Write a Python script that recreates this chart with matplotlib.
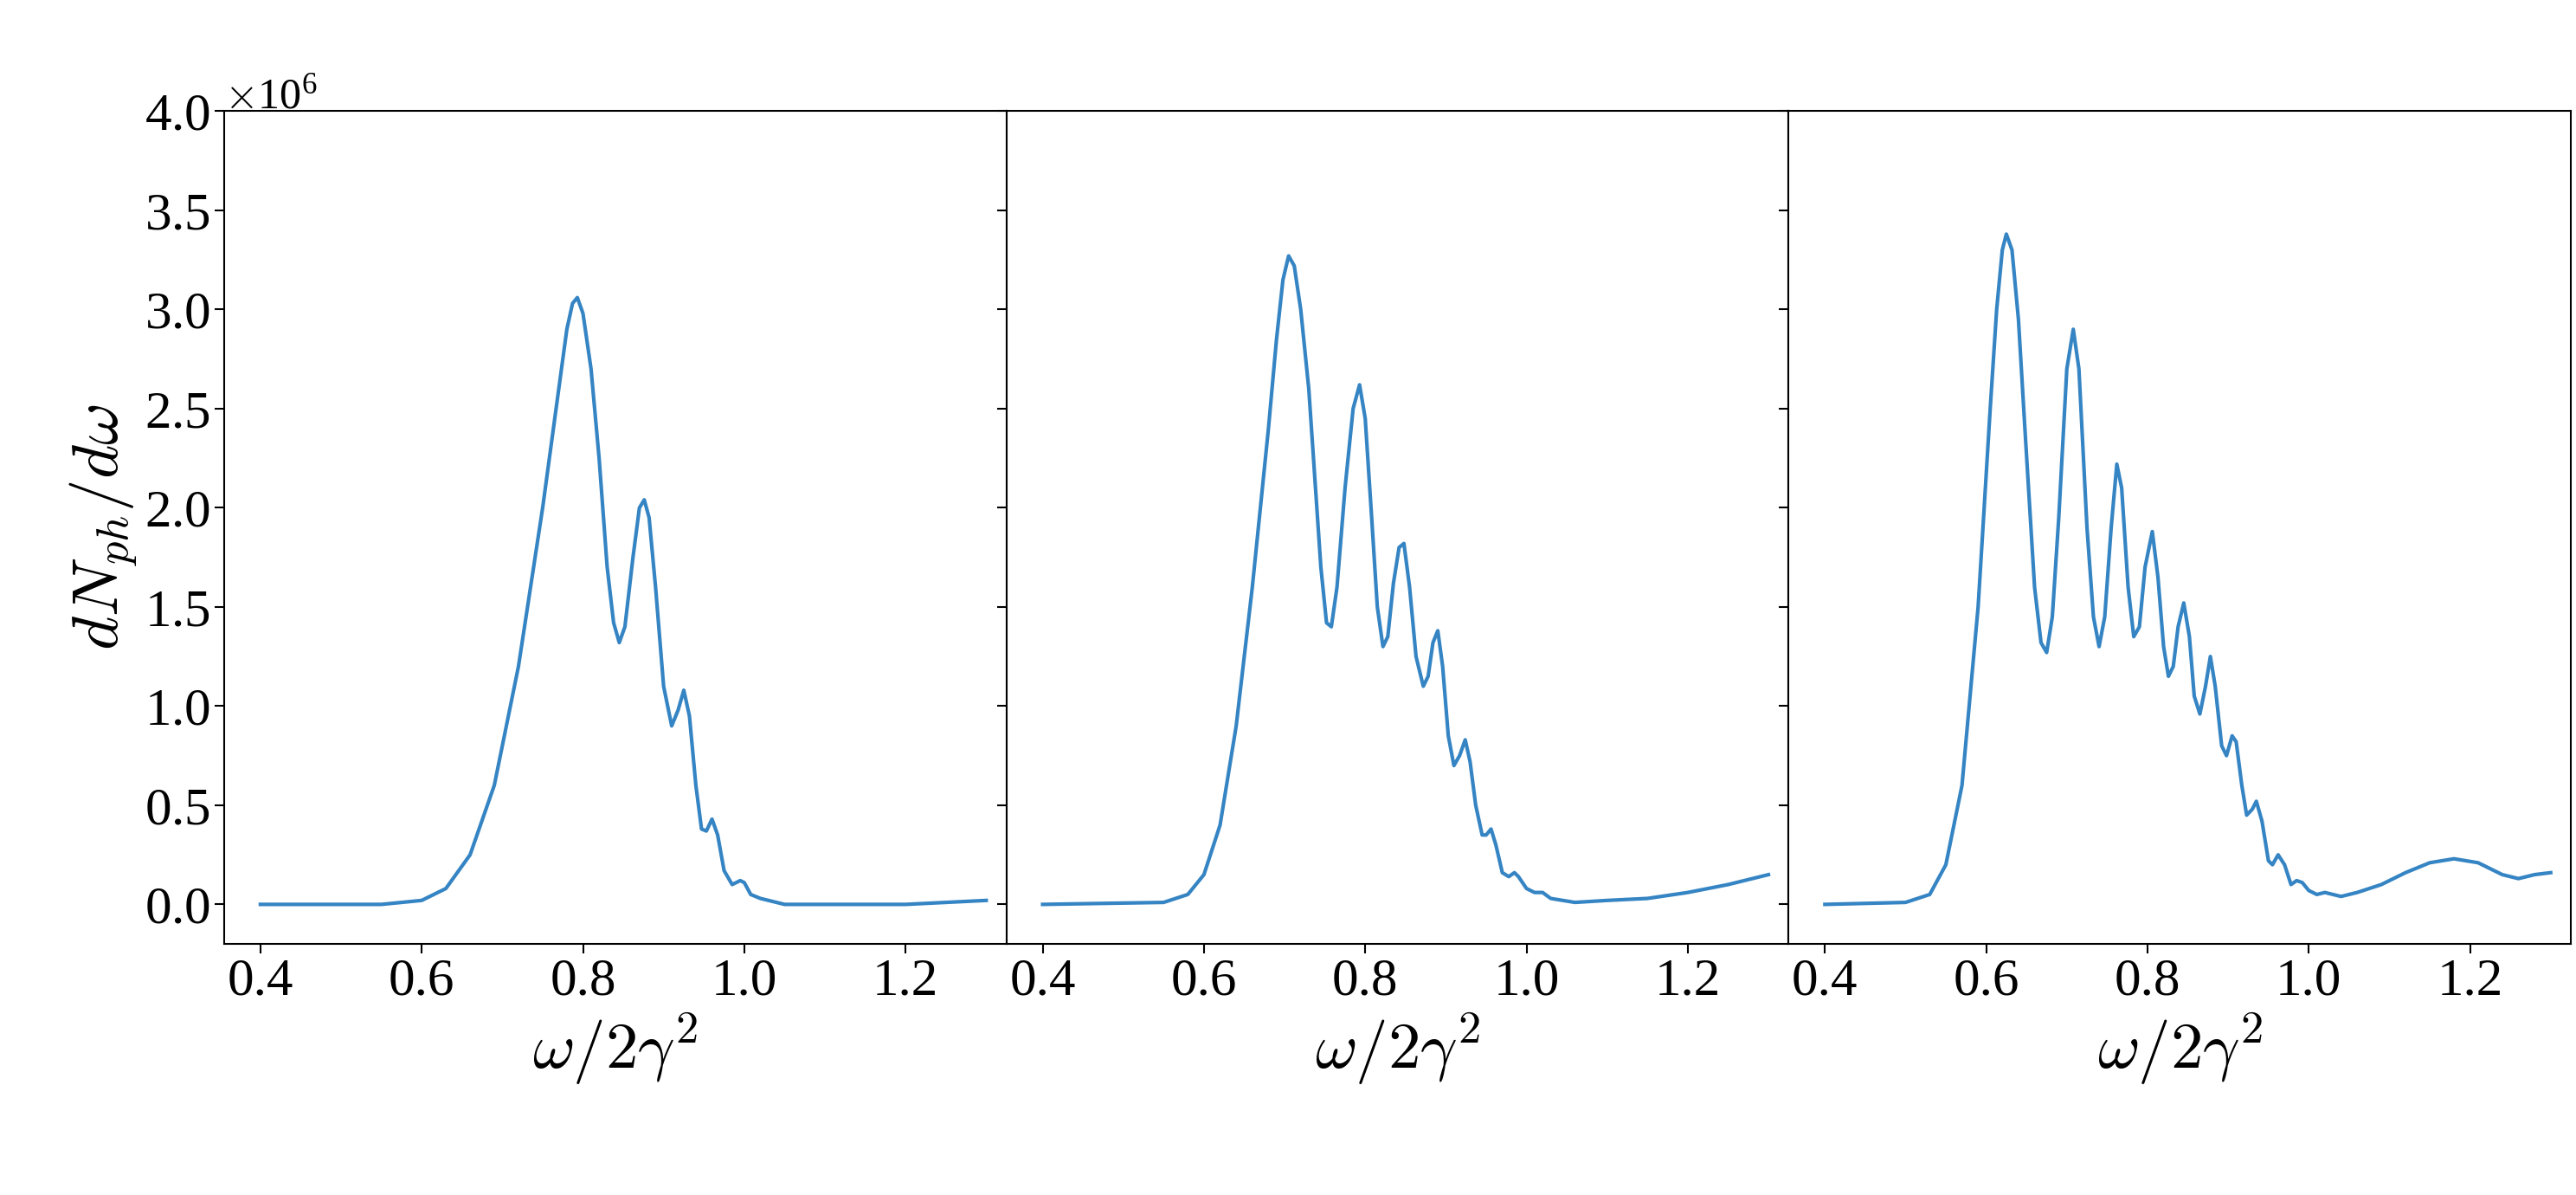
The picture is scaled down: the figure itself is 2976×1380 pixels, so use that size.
import matplotlib
matplotlib.use("Agg")
import matplotlib.pyplot as plt
import numpy as np

x1 = [0.40,0.55,0.60,0.63,0.66,0.69,0.72,0.75,0.77,0.78,0.787,0.793,0.80,0.81,0.82,0.83,0.838,0.845,0.852,0.862,0.87,0.876,0.882,0.89,0.90,0.91,0.918,0.925,0.932,0.94,0.947,0.953,0.96,0.967,0.975,0.985,0.995,1.0,1.008,1.02,1.03,1.05,1.2,1.3]
y1 = [0.0,0.0,0.02,0.08,0.25,0.6,1.2,2.0,2.6,2.9,3.03,3.06,2.98,2.7,2.25,1.7,1.42,1.32,1.4,1.75,2.0,2.04,1.95,1.6,1.1,0.9,0.98,1.08,0.95,0.6,0.38,0.37,0.43,0.35,0.17,0.1,0.12,0.11,0.05,0.03,0.02,0.0,0.0,0.02]

x2 = [0.40,0.55,0.58,0.60,0.62,0.64,0.66,0.68,0.69,0.698,0.705,0.712,0.72,0.73,0.745,0.752,0.758,0.765,0.775,0.785,0.793,0.80,0.808,0.815,0.822,0.828,0.835,0.842,0.848,0.855,0.863,0.872,0.878,0.884,0.89,0.896,0.903,0.91,0.917,0.924,0.93,0.937,0.945,0.95,0.956,0.962,0.97,0.978,0.985,0.99,1.0,1.01,1.02,1.03,1.06,1.1,1.15,1.2,1.25,1.3]
y2 = [0,0.01,0.05,0.15,0.4,0.9,1.6,2.4,2.85,3.15,3.27,3.22,3.0,2.6,1.7,1.42,1.4,1.6,2.1,2.5,2.62,2.45,1.95,1.5,1.3,1.35,1.62,1.8,1.82,1.6,1.25,1.1,1.15,1.32,1.38,1.2,0.85,0.7,0.75,0.83,0.72,0.5,0.35,0.35,0.38,0.3,0.16,0.14,0.16,0.14,0.08,0.06,0.06,0.03,0.01,0.02,0.03,0.06,0.1,0.15]

x3 = [0.40,0.50,0.53,0.55,0.57,0.59,0.605,0.613,0.62,0.625,0.632,0.64,0.648,0.66,0.668,0.675,0.682,0.69,0.70,0.708,0.715,0.725,0.733,0.74,0.747,0.755,0.762,0.768,0.776,0.783,0.79,0.797,0.806,0.813,0.82,0.826,0.832,0.838,0.845,0.852,0.858,0.865,0.872,0.878,0.884,0.892,0.898,0.905,0.91,0.917,0.923,0.93,0.935,0.942,0.95,0.955,0.962,0.97,0.978,0.985,0.992,1.0,1.01,1.02,1.04,1.06,1.09,1.12,1.15,1.18,1.21,1.24,1.26,1.28,1.3]
y3 = [0,0.01,0.05,0.2,0.6,1.5,2.5,3.0,3.3,3.38,3.3,2.95,2.4,1.6,1.32,1.27,1.45,1.95,2.7,2.9,2.7,1.9,1.45,1.3,1.45,1.9,2.22,2.1,1.6,1.35,1.4,1.7,1.88,1.65,1.3,1.15,1.2,1.4,1.52,1.35,1.05,0.96,1.1,1.25,1.1,0.8,0.75,0.85,0.82,0.6,0.45,0.48,0.52,0.42,0.22,0.2,0.25,0.2,0.1,0.12,0.11,0.07,0.05,0.06,0.04,0.06,0.1,0.16,0.21,0.23,0.21,0.15,0.13,0.15,0.16]

plt.rcParams['font.family'] = ['Liberation Serif', 'DejaVu Serif']
plt.rcParams['mathtext.fontset'] = 'cm'

fig, axes = plt.subplots(1, 3, figsize=(29.76, 13.8), dpi=100, sharey=True)
fig.subplots_adjust(left=0.087, right=0.998, top=0.907, bottom=0.21, wspace=0)
for ax, x, y in zip(axes, [x1, x2, x3], [y1, y2, y3]):
    ax.plot(x, np.array(y) * 1e6, color='#3584c3', lw=3)
    ax.set_xlim(0.355, 1.325)
    ax.set_xticks([0.4, 0.6, 0.8, 1.0, 1.2])
    ax.set_xlabel(r'$\omega/2\gamma^2$', fontsize=54)
    ax.tick_params(labelsize=44, length=8, width=1.5)
    for s in ax.spines.values():
        s.set_linewidth(1.5)
axes[0].set_ylim(-0.2e6, 4.0e6)
axes[0].set_yticks(np.arange(0, 4.01, 0.5) * 1e6)
axes[0].ticklabel_format(axis='y', style='sci', scilimits=(6, 6), useMathText=True)
axes[0].set_ylabel(r'$dN_{ph}/d\omega$', fontsize=54)
axes[0].yaxis.get_offset_text().set_fontsize(36)
plt.savefig('out.png')
